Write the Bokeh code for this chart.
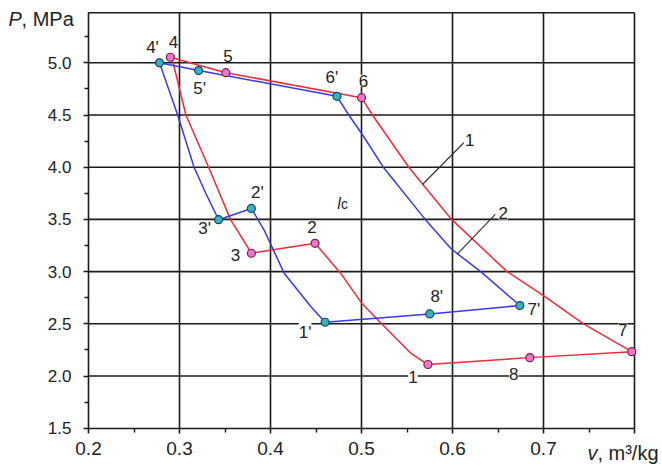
from bokeh.plotting import figure
from bokeh.models import Range1d, FixedTicker, Label, PrintfTickFormatter
from bokeh.embed import file_html
from bokeh.resources import INLINE

# ---- data ----
# cycle 1 (red): path 1 -> 2 -> 3 -> 4 -> 5 -> 6 -> 7 -> 8 -> 1
red_v = [0.573, 0.554, 0.521, 0.500, 0.477, 0.449, 0.379, 0.356, 0.332, 0.307,
         0.293, 0.290, 0.351, 0.500, 0.512, 0.552, 0.599, 0.660, 0.700, 0.744,
         0.797, 0.685, 0.573]
red_p = [2.110, 2.220, 2.510, 2.700, 2.985, 3.271, 3.176, 3.500, 4.000, 4.500,
         5.000, 5.053, 4.905, 4.666, 4.500, 4.000, 3.500, 3.000, 2.770, 2.500,
         2.233, 2.176, 2.110]
red_names = ["1", "2", "3", "4", "5", "6", "7", "8"]
red_pts_v = [0.573, 0.449, 0.379, 0.290, 0.351, 0.500, 0.797, 0.685]
red_pts_p = [2.110, 3.271, 3.176, 5.053, 4.905, 4.666, 2.233, 2.176]

# cycle 2 (blue): path 1' -> 2' -> 3' -> 4' -> 5' -> 6' -> 7' -> 8' -> 1'
blue_v = [0.460, 0.444, 0.415, 0.393, 0.379, 0.343, 0.329, 0.316, 0.298, 0.278,
          0.321, 0.473, 0.486, 0.500, 0.524, 0.570, 0.599, 0.631, 0.674, 0.575,
          0.460]
blue_p = [2.515, 2.668, 2.985, 3.398, 3.605, 3.497, 3.748, 4.000, 4.500, 5.000,
          4.926, 4.679, 4.500, 4.325, 4.000, 3.500, 3.214, 3.000, 2.675, 2.595,
          2.515]
blue_names = ["1'", "2'", "3'", "4'", "5'", "6'", "7'", "8'"]
blue_pts_v = [0.460, 0.379, 0.343, 0.278, 0.321, 0.473, 0.674, 0.575]
blue_pts_p = [2.515, 3.605, 3.497, 5.000, 4.926, 4.679, 2.675, 2.595]

x_ticks = [0.2, 0.3, 0.4, 0.5, 0.6, 0.7, 0.8]
x_minor = [0.25, 0.35, 0.45, 0.55, 0.65, 0.75]
y_ticks = [1.5, 2.0, 2.5, 3.0, 3.5, 4.0, 4.5, 5.0]
y_minor = [1.75, 2.25, 2.75, 3.25, 3.75, 4.25, 4.75, 5.25]
x_lo, x_hi = 0.2, 0.8
y_lo, y_hi = 1.5, 5.48

# ---- styling / layout ----
FONT = "Liberation Sans"
TXT = "#222222"
RED = "#f52838"
BLUE = "#3838ec"
GRID = "#1a1a1a"

W, H = 660, 464
PX_X = 910.0     # pixels per unit of v
PX_Y = 104.4     # pixels per unit of P
LEFT, BOTTOM = 88.0, 427.7   # where the box's lower-left corner sits

red_off = [(-15, -12), (-3, 16), (-16, -2), (3, 15), (2, 17), (2, 17), (-9, 22), (-16, -16)]
red_bg = [True, True, False, False, True, True, True, True]
blue_off = [(-20, -10), (6, 16), (-14, -9), (-7, 15), (1, -18), (-5, 19), (14, -4), (7, 17)]
blue_bg = [True, False, False, True, False, True, False, False]

p = figure(width=W, height=H, output_backend="svg", toolbar_location=None,
           x_range=Range1d(x_lo - LEFT / PX_X, x_lo + (W - LEFT) / PX_X),
           y_range=Range1d(y_lo - (H - BOTTOM) / PX_Y, y_lo + BOTTOM / PX_Y),
           min_border=0)
p.background_fill_color = "white"
p.border_fill_color = "white"
p.outline_line_color = None
p.xgrid.visible = False
p.ygrid.visible = False

# grid and box border
p.segment(x0=x_ticks[1:-1], y0=[y_lo] * 5, x1=x_ticks[1:-1], y1=[y_hi] * 5,
          line_color=GRID, line_width=1.6)
p.segment(x0=[x_lo] * 7, y0=y_ticks[1:], x1=[x_hi] * 7, y1=y_ticks[1:],
          line_color=GRID, line_width=1.6)
p.segment(x0=[x_lo, x_hi], y0=[y_hi, y_lo], x1=[x_hi, x_hi], y1=[y_hi, y_hi],
          line_color=GRID, line_width=1.6)

p.xaxis.fixed_location = y_lo
p.yaxis.fixed_location = x_lo
p.xaxis.bounds = (x_lo, x_hi)
p.yaxis.bounds = (y_lo, y_hi)
p.xaxis.ticker = FixedTicker(ticks=x_ticks, minor_ticks=x_minor)
p.yaxis.ticker = FixedTicker(ticks=y_ticks, minor_ticks=y_minor)
p.xaxis.formatter = PrintfTickFormatter(format="%.1f")
p.yaxis.formatter = PrintfTickFormatter(format="%.1f")
p.xaxis.major_label_overrides = {0.8: ""}
for ax in (p.xaxis, p.yaxis):
    ax.axis_line_color = GRID
    ax.axis_line_width = 1.6
    ax.major_tick_line_color = GRID
    ax.major_tick_line_width = 1.6
    ax.minor_tick_line_color = GRID
    ax.minor_tick_line_width = 1.4
    ax.major_tick_in = 0
    ax.major_tick_out = 5
    ax.minor_tick_in = 0
    ax.minor_tick_out = 4
    ax.major_label_text_font = FONT
    ax.major_label_text_color = TXT
p.yaxis.major_label_text_font_size = "17px"
p.yaxis.major_label_standoff = 12
p.xaxis.major_label_text_font_size = "19px"
p.xaxis.major_label_standoff = 9

# cycles
p.line(red_v, red_p, line_color=RED, line_width=1.5)
p.line(blue_v, blue_p, line_color=BLUE, line_width=1.5)
p.scatter(red_pts_v, red_pts_p, size=8, fill_color="#e878c8", line_color="#7a2050", line_width=1.2)
p.scatter(blue_pts_v, blue_pts_p, size=8, fill_color="#38b0c0", line_color="#104858", line_width=1.2)


def add_label(x, y, text, dx=0, dy=0, bg=False, size="16px", style="normal",
              align="center", baseline="middle"):
    lab = Label(x=x, y=y, text=text, x_offset=dx, y_offset=dy,
                text_font=FONT, text_font_size=size, text_color=TXT,
                text_font_style=style, text_align=align, text_baseline=baseline)
    if bg:
        lab.background_fill_color = "white"
        lab.background_fill_alpha = 1.0
    p.add_layout(lab)


for n, vv, pp, (dx, dy), bg in zip(red_names, red_pts_v, red_pts_p, red_off, red_bg):
    add_label(vv, pp, n, dx, dy, bg, size="17px")
for n, vv, pp, (dx, dy), bg in zip(blue_names, blue_pts_v, blue_pts_p, blue_off, blue_bg):
    add_label(vv, pp, n, dx, dy, bg, size="17px")

# leader lines for curves 1 and 2
lead1_v = [0.567, 0.6124]
lead1_p = [3.834, 4.234]
lead2_v = [0.605, 0.647]
lead2_p = [3.165, 3.548]
p.line(lead1_v, lead1_p, line_color="#333333", line_width=1.2)
p.line(lead2_v, lead2_p, line_color="#333333", line_width=1.2)
add_label(lead1_v[1], lead1_p[1], "1", 6, 3, True, size="17px")
add_label(lead2_v[1], lead2_p[1], "2", 8, 1, True, size="17px")

# l_c mark
add_label(0.4753, 3.653, "l", style="italic")
add_label(0.4813, 3.645, "c", size="14px")

# axis titles
add_label(0.1121, 5.424, "P", size="20px", style="italic", align="left")
add_label(0.1264, 5.424, ", MPa", size="20px", align="left")
add_label(0.8264, 1.267, ", m\u00b3/kg", size="20px", align="right", baseline="alphabetic")
add_label(0.8264, 1.267, "v", dx=-61, size="20px", style="italic", align="right",
          baseline="alphabetic")

open("out.html", "w").write(file_html(p, INLINE))
